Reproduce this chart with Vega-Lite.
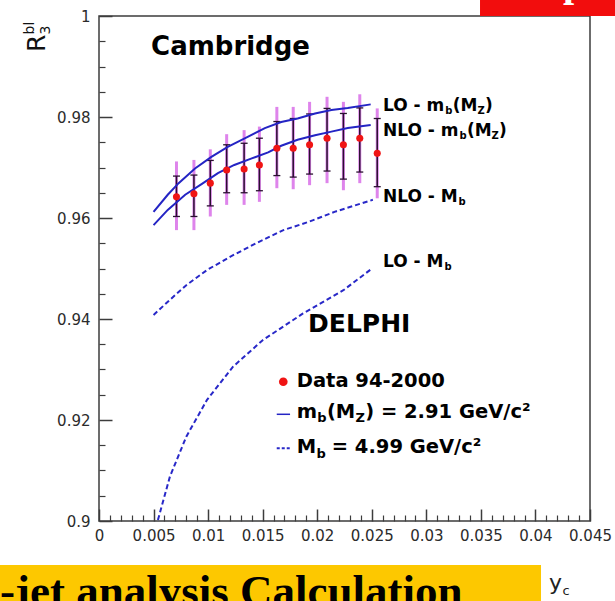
{
  "$schema": "https://vega.github.io/schema/vega-lite/v6.json",
  "width": 491,
  "height": 505,
  "autosize": {"type": "none"},
  "padding": {"left": 99, "top": 16, "right": 25, "bottom": 80},
  "background": "#ffffff",
  "config": {"view": {"stroke": "#3c3c3c", "strokeWidth": 1.5}, "axis": {"grid": false}},
  "datasets": {
    "points": [
      {"yc": 0.0071, "r": 0.9642, "statLo": 0.9603, "statHi": 0.9683, "totLo": 0.9576, "totHi": 0.9712},
      {"yc": 0.0087, "r": 0.9648, "statLo": 0.9603, "statHi": 0.9685, "totLo": 0.9576, "totHi": 0.9715},
      {"yc": 0.0102, "r": 0.9669, "statLo": 0.9624, "statHi": 0.9714, "totLo": 0.9603, "totHi": 0.9736},
      {"yc": 0.0117, "r": 0.9695, "statLo": 0.9650, "statHi": 0.9745, "totLo": 0.9626, "totHi": 0.9766},
      {"yc": 0.0133, "r": 0.9697, "statLo": 0.9650, "statHi": 0.9748, "totLo": 0.9626, "totHi": 0.9774},
      {"yc": 0.0147, "r": 0.9705, "statLo": 0.9654, "statHi": 0.9758, "totLo": 0.9632, "totHi": 0.9781},
      {"yc": 0.0163, "r": 0.9738, "statLo": 0.9684, "statHi": 0.9791, "totLo": 0.9659, "totHi": 0.9820},
      {"yc": 0.0178, "r": 0.9738, "statLo": 0.9681, "statHi": 0.9797, "totLo": 0.9657, "totHi": 0.9820},
      {"yc": 0.0193, "r": 0.9745, "statLo": 0.9687, "statHi": 0.9806, "totLo": 0.9665, "totHi": 0.9830},
      {"yc": 0.0209, "r": 0.9758, "statLo": 0.9693, "statHi": 0.9817, "totLo": 0.9669, "totHi": 0.9840},
      {"yc": 0.0224, "r": 0.9745, "statLo": 0.9677, "statHi": 0.9807, "totLo": 0.9655, "totHi": 0.9830},
      {"yc": 0.0239, "r": 0.9758, "statLo": 0.9691, "statHi": 0.9818, "totLo": 0.9669, "totHi": 0.9845},
      {"yc": 0.0255, "r": 0.9728, "statLo": 0.9662, "statHi": 0.9797, "totLo": 0.9639, "totHi": 0.9817}
    ],
    "theory": [
      {"curve": "loRun", "yc": 0.0050, "r": 0.9612},
      {"curve": "loRun", "yc": 0.0063, "r": 0.9646},
      {"curve": "loRun", "yc": 0.0073, "r": 0.9669},
      {"curve": "loRun", "yc": 0.0088, "r": 0.9698},
      {"curve": "loRun", "yc": 0.0103, "r": 0.9721},
      {"curve": "loRun", "yc": 0.0118, "r": 0.9741},
      {"curve": "loRun", "yc": 0.0134, "r": 0.9758},
      {"curve": "loRun", "yc": 0.0152, "r": 0.9778},
      {"curve": "loRun", "yc": 0.0167, "r": 0.9790},
      {"curve": "loRun", "yc": 0.0182, "r": 0.9797},
      {"curve": "loRun", "yc": 0.0198, "r": 0.9807},
      {"curve": "loRun", "yc": 0.0213, "r": 0.9814},
      {"curve": "loRun", "yc": 0.0228, "r": 0.9818},
      {"curve": "loRun", "yc": 0.0249, "r": 0.9825},
      {"curve": "nloRun", "yc": 0.0050, "r": 0.9586},
      {"curve": "nloRun", "yc": 0.0063, "r": 0.9616},
      {"curve": "nloRun", "yc": 0.0079, "r": 0.9646},
      {"curve": "nloRun", "yc": 0.0094, "r": 0.9667},
      {"curve": "nloRun", "yc": 0.0109, "r": 0.9689},
      {"curve": "nloRun", "yc": 0.0124, "r": 0.9705},
      {"curve": "nloRun", "yc": 0.0140, "r": 0.9718},
      {"curve": "nloRun", "yc": 0.0155, "r": 0.9730},
      {"curve": "nloRun", "yc": 0.0167, "r": 0.9743},
      {"curve": "nloRun", "yc": 0.0182, "r": 0.9755},
      {"curve": "nloRun", "yc": 0.0198, "r": 0.9764},
      {"curve": "nloRun", "yc": 0.0213, "r": 0.9771},
      {"curve": "nloRun", "yc": 0.0228, "r": 0.9778},
      {"curve": "nloRun", "yc": 0.0249, "r": 0.9784},
      {"curve": "nloPole", "yc": 0.0050, "r": 0.9408},
      {"curve": "nloPole", "yc": 0.0065, "r": 0.9438},
      {"curve": "nloPole", "yc": 0.0080, "r": 0.9467},
      {"curve": "nloPole", "yc": 0.0099, "r": 0.9497},
      {"curve": "nloPole", "yc": 0.0120, "r": 0.9523},
      {"curve": "nloPole", "yc": 0.0144, "r": 0.9550},
      {"curve": "nloPole", "yc": 0.0169, "r": 0.9576},
      {"curve": "nloPole", "yc": 0.0193, "r": 0.9593},
      {"curve": "nloPole", "yc": 0.0217, "r": 0.9613},
      {"curve": "nloPole", "yc": 0.0251, "r": 0.9636},
      {"curve": "loPole", "yc": 0.0054, "r": 0.9002},
      {"curve": "loPole", "yc": 0.0065, "r": 0.9088},
      {"curve": "loPole", "yc": 0.0080, "r": 0.9167},
      {"curve": "loPole", "yc": 0.0099, "r": 0.9240},
      {"curve": "loPole", "yc": 0.0123, "r": 0.9306},
      {"curve": "loPole", "yc": 0.0150, "r": 0.9358},
      {"curve": "loPole", "yc": 0.0187, "r": 0.9411},
      {"curve": "loPole", "yc": 0.0224, "r": 0.9457},
      {"curve": "loPole", "yc": 0.0249, "r": 0.9498}
    ],
    "notes": [
      {"key": "banner", "yc": -0.0095, "yc2": 0.04051, "r": 0.8800, "r2": 0.89129},
      {"key": "redbox", "yc": 0.03492, "yc2": 0.0480, "r": 1.0, "r2": 1.0045},
      {"key": "redGlyph", "yc": 0.04253, "r": 1.00396},
      {"key": "bannerText", "yc": -0.00907, "r": 0.88317},
      {"key": "ycLabel", "yc": 0.04124, "r": 0.88634},
      {"key": "title", "yc": -0.00495, "r": 0.99287},
      {"key": "cambridge", "yc": 0.00477, "r": 0.99228},
      {"key": "delphi", "yc": 0.01916, "r": 0.93901},
      {"key": "loRun", "yc": 0.02603, "r": 0.98218},
      {"key": "nloRun", "yc": 0.02603, "r": 0.97723},
      {"key": "nloPole", "yc": 0.02603, "r": 0.96406},
      {"key": "loPole", "yc": 0.02603, "r": 0.95129},
      {"key": "legData", "yc": 0.01812, "r": 0.92772},
      {"key": "legDot", "yc": 0.01689, "r": 0.92758},
      {"key": "legRun", "yc": 0.01812, "r": 0.92158},
      {"key": "legPole", "yc": 0.01812, "r": 0.91465},
      {"key": "sampleRun", "yc": 0.01629, "yc2": 0.01751, "r": 0.92113},
      {"key": "samplePole", "yc": 0.01629, "yc2": 0.01766, "r": 0.91440}
    ]
  },
  "encoding": {
    "x": {"field": "yc", "type": "quantitative", "scale": {"domain": [0, 0.045], "nice": false, "zero": false}, "axis": null},
    "y": {"field": "r", "type": "quantitative", "scale": {"domain": [0.9, 1], "nice": false, "zero": false}, "axis": null}
  },
  "layer": [
    {
      "data": {"name": "notes"},
      "transform": [{"filter": "datum.key === 'banner'"}],
      "mark": {"type": "rect", "fill": "#fdc800"},
      "encoding": {"x2": {"field": "yc2"}, "y2": {"field": "r2"}}
    },
    {
      "data": {"name": "notes"},
      "transform": [{"filter": "datum.key === 'redbox'"}],
      "mark": {"type": "rect", "fill": "#f20d0d"},
      "encoding": {"x2": {"field": "yc2"}, "y2": {"field": "r2"}}
    },
    {
      "data": {"name": "notes"},
      "transform": [{"filter": "datum.key === 'redGlyph'"}],
      "mark": {"type": "text", "text": "p", "font": "Liberation Serif", "fontWeight": "bold", "fontSize": 40, "align": "left", "baseline": "alphabetic", "fill": "#ffffff"}
    },
    {
      "data": {"name": "notes"},
      "transform": [{"filter": "datum.key === 'bannerText'"}],
      "mark": {"type": "text", "text": "-jet analysis Calculation", "font": "Liberation Serif", "fontWeight": "bold", "fontSize": 45, "align": "left", "baseline": "alphabetic", "fill": "#000000"}
    },
    {
      "data": {"name": "notes"},
      "transform": [{"filter": "datum.key === 'ycLabel'"}],
      "mark": {"type": "text", "text": "y", "font": "DejaVu Sans", "fontSize": 22, "align": "left", "baseline": "alphabetic", "fill": "#222222"}
    },
    {
      "data": {"name": "notes"},
      "transform": [{"filter": "datum.key === 'ycLabel'"}],
      "mark": {"type": "text", "text": "c", "font": "DejaVu Sans", "fontSize": 13, "align": "left", "baseline": "alphabetic", "dx": 13.5, "dy": 5, "fill": "#222222"}
    },
    {
      "data": {"name": "theory"},
      "transform": [{"filter": "datum.curve === 'nloPole'"}],
      "mark": {"type": "line", "stroke": "#2828c8", "strokeWidth": 2, "strokeDash": [5, 3]}
    },
    {
      "data": {"name": "theory"},
      "transform": [{"filter": "datum.curve === 'loPole'"}],
      "mark": {"type": "line", "stroke": "#2828c8", "strokeWidth": 2, "strokeDash": [5, 3]}
    },
    {
      "data": {"name": "points"},
      "mark": {"type": "rule", "stroke": "#d86ee8", "strokeWidth": 3, "opacity": 0.85},
      "encoding": {
        "x": {
          "field": "yc", "type": "quantitative",
          "scale": {"domain": [0, 0.045], "nice": false, "zero": false},
          "axis": {
            "orient": "bottom", "title": null, "domain": false, "grid": false,
            "values": [0, 0.005, 0.01, 0.015, 0.02, 0.025, 0.03, 0.035, 0.04, 0.045],
            "format": "~g", "tickSize": -12, "tickWidth": 1.5, "tickColor": "#3c3c3c",
            "labelFont": "DejaVu Sans", "labelFontSize": 15, "labelColor": "#2b2b2b",
            "labelPadding": 19, "labelFlush": false, "labelOverlap": false, "labelBound": false
          }
        },
        "y": {
          "field": "totLo", "type": "quantitative",
          "scale": {"domain": [0.9, 1], "nice": false, "zero": false},
          "axis": {
            "orient": "left", "title": null, "domain": false, "grid": false,
            "values": [0.9, 0.92, 0.94, 0.96, 0.98, 1],
            "format": "~g", "tickSize": -13, "tickWidth": 1.5, "tickColor": "#3c3c3c",
            "labelFont": "DejaVu Sans", "labelFontSize": 15, "labelColor": "#2b2b2b",
            "labelPadding": 22, "labelFlush": false, "labelOverlap": false, "labelBound": false
          }
        },
        "y2": {"field": "totHi"}
      }
    },
    {
      "data": {"name": "points"},
      "mark": {"type": "rule", "stroke": "#2a1030", "strokeWidth": 1.5},
      "encoding": {
        "x": {
          "field": "yc", "type": "quantitative",
          "scale": {"domain": [0, 0.045], "nice": false, "zero": false},
          "axis": {
            "orient": "bottom", "title": null, "domain": false, "grid": false, "labels": false,
            "values": [0.001, 0.002, 0.003, 0.004, 0.006, 0.007, 0.008, 0.009, 0.011, 0.012, 0.013, 0.014, 0.016, 0.017, 0.018, 0.019, 0.021, 0.022, 0.023, 0.024, 0.026, 0.027, 0.028, 0.029, 0.031, 0.032, 0.033, 0.034, 0.036, 0.037, 0.038, 0.039, 0.041, 0.042, 0.043, 0.044],
            "tickSize": -6, "tickWidth": 1.2, "tickColor": "#3c3c3c"
          }
        },
        "y": {
          "field": "statLo", "type": "quantitative",
          "scale": {"domain": [0.9, 1], "nice": false, "zero": false},
          "axis": {
            "orient": "left", "title": null, "domain": false, "grid": false, "labels": false,
            "values": [0.905, 0.91, 0.915, 0.925, 0.93, 0.935, 0.945, 0.95, 0.955, 0.965, 0.97, 0.975, 0.985, 0.99, 0.995],
            "tickSize": -6, "tickWidth": 1.2, "tickColor": "#3c3c3c"
          }
        },
        "y2": {"field": "statHi"}
      }
    },
    {
      "data": {"name": "points"},
      "transform": [{"fold": ["statLo", "statHi"], "as": ["end", "capR"]}],
      "mark": {"type": "tick", "orient": "horizontal", "size": 7, "thickness": 1.3, "color": "#2a1030", "opacity": 1},
      "encoding": {
        "y": {"field": "capR", "type": "quantitative", "scale": {"domain": [0.9, 1], "nice": false, "zero": false}, "axis": null}
      }
    },
    {
      "data": {"name": "theory"},
      "transform": [{"filter": "datum.curve === 'loRun'"}],
      "mark": {"type": "line", "stroke": "#2424c4", "strokeWidth": 2}
    },
    {
      "data": {"name": "theory"},
      "transform": [{"filter": "datum.curve === 'nloRun'"}],
      "mark": {"type": "line", "stroke": "#2424c4", "strokeWidth": 2}
    },
    {
      "data": {"name": "points"},
      "mark": {"type": "circle", "size": 50, "fill": "#f01414", "opacity": 1}
    },
    {
      "data": {"name": "notes"},
      "transform": [{"filter": "datum.key === 'title'"}],
      "mark": {"type": "text", "text": "R", "angle": 270, "font": "DejaVu Sans", "fontSize": 25, "align": "left", "baseline": "alphabetic", "fill": "#111111"}
    },
    {
      "data": {"name": "notes"},
      "transform": [{"filter": "datum.key === 'title'"}],
      "mark": {"type": "text", "text": "bl", "angle": 270, "font": "DejaVu Sans", "fontSize": 14, "align": "left", "baseline": "alphabetic", "dx": 17.5, "dy": -11, "fill": "#111111"}
    },
    {
      "data": {"name": "notes"},
      "transform": [{"filter": "datum.key === 'title'"}],
      "mark": {"type": "text", "text": "3", "angle": 270, "font": "DejaVu Sans", "fontSize": 14, "align": "left", "baseline": "alphabetic", "dx": 17.5, "dy": 5, "fill": "#111111"}
    },
    {
      "data": {"name": "notes"},
      "transform": [{"filter": "datum.key === 'cambridge'"}],
      "mark": {"type": "text", "text": "Cambridge", "font": "DejaVu Sans", "fontWeight": "bold", "fontSize": 26, "align": "left", "baseline": "alphabetic", "fill": "#000000"}
    },
    {
      "data": {"name": "notes"},
      "transform": [{"filter": "datum.key === 'delphi'"}],
      "mark": {"type": "text", "text": "DELPHI", "font": "DejaVu Sans", "fontWeight": "bold", "fontSize": 25, "align": "left", "baseline": "middle", "fill": "#000000"}
    },
    {
      "data": {"name": "notes"},
      "transform": [{"filter": "datum.key === 'loRun'"}],
      "mark": {"type": "text", "text": "LO - m", "font": "DejaVu Sans", "fontWeight": "bold", "fontSize": 17, "align": "left", "baseline": "middle", "fill": "#000000"}
    },
    {
      "data": {"name": "notes"},
      "transform": [{"filter": "datum.key === 'loRun'"}],
      "mark": {"type": "text", "text": "b", "font": "DejaVu Sans", "fontWeight": "bold", "fontSize": 10, "align": "left", "baseline": "middle", "dx": 62.2, "dy": 5, "fill": "#000000"}
    },
    {
      "data": {"name": "notes"},
      "transform": [{"filter": "datum.key === 'loRun'"}],
      "mark": {"type": "text", "text": "(M", "font": "DejaVu Sans", "fontWeight": "bold", "fontSize": 17, "align": "left", "baseline": "middle", "dx": 69.7, "fill": "#000000"}
    },
    {
      "data": {"name": "notes"},
      "transform": [{"filter": "datum.key === 'loRun'"}],
      "mark": {"type": "text", "text": "Z", "font": "DejaVu Sans", "fontWeight": "bold", "fontSize": 10, "align": "left", "baseline": "middle", "dx": 94.4, "dy": 5, "fill": "#000000"}
    },
    {
      "data": {"name": "notes"},
      "transform": [{"filter": "datum.key === 'loRun'"}],
      "mark": {"type": "text", "text": ")", "font": "DejaVu Sans", "fontWeight": "bold", "fontSize": 17, "align": "left", "baseline": "middle", "dx": 101.9, "fill": "#000000"}
    },
    {
      "data": {"name": "notes"},
      "transform": [{"filter": "datum.key === 'nloRun'"}],
      "mark": {"type": "text", "text": "NLO - m", "font": "DejaVu Sans", "fontWeight": "bold", "fontSize": 17, "align": "left", "baseline": "middle", "fill": "#000000"}
    },
    {
      "data": {"name": "notes"},
      "transform": [{"filter": "datum.key === 'nloRun'"}],
      "mark": {"type": "text", "text": "b", "font": "DejaVu Sans", "fontWeight": "bold", "fontSize": 10, "align": "left", "baseline": "middle", "dx": 76.4, "dy": 5, "fill": "#000000"}
    },
    {
      "data": {"name": "notes"},
      "transform": [{"filter": "datum.key === 'nloRun'"}],
      "mark": {"type": "text", "text": "(M", "font": "DejaVu Sans", "fontWeight": "bold", "fontSize": 17, "align": "left", "baseline": "middle", "dx": 83.9, "fill": "#000000"}
    },
    {
      "data": {"name": "notes"},
      "transform": [{"filter": "datum.key === 'nloRun'"}],
      "mark": {"type": "text", "text": "Z", "font": "DejaVu Sans", "fontWeight": "bold", "fontSize": 10, "align": "left", "baseline": "middle", "dx": 108.6, "dy": 5, "fill": "#000000"}
    },
    {
      "data": {"name": "notes"},
      "transform": [{"filter": "datum.key === 'nloRun'"}],
      "mark": {"type": "text", "text": ")", "font": "DejaVu Sans", "fontWeight": "bold", "fontSize": 17, "align": "left", "baseline": "middle", "dx": 116.1, "fill": "#000000"}
    },
    {
      "data": {"name": "notes"},
      "transform": [{"filter": "datum.key === 'nloPole'"}],
      "mark": {"type": "text", "text": "NLO - M", "font": "DejaVu Sans", "fontWeight": "bold", "fontSize": 17, "align": "left", "baseline": "middle", "fill": "#000000"}
    },
    {
      "data": {"name": "notes"},
      "transform": [{"filter": "datum.key === 'nloPole'"}],
      "mark": {"type": "text", "text": "b", "font": "DejaVu Sans", "fontWeight": "bold", "fontSize": 10, "align": "left", "baseline": "middle", "dx": 75.6, "dy": 5, "fill": "#000000"}
    },
    {
      "data": {"name": "notes"},
      "transform": [{"filter": "datum.key === 'loPole'"}],
      "mark": {"type": "text", "text": "LO - M", "font": "DejaVu Sans", "fontWeight": "bold", "fontSize": 17, "align": "left", "baseline": "middle", "fill": "#000000"}
    },
    {
      "data": {"name": "notes"},
      "transform": [{"filter": "datum.key === 'loPole'"}],
      "mark": {"type": "text", "text": "b", "font": "DejaVu Sans", "fontWeight": "bold", "fontSize": 10, "align": "left", "baseline": "middle", "dx": 61.4, "dy": 5, "fill": "#000000"}
    },
    {
      "data": {"name": "notes"},
      "transform": [{"filter": "datum.key === 'legDot'"}],
      "mark": {"type": "circle", "size": 75, "fill": "#f01414", "opacity": 1}
    },
    {
      "data": {"name": "notes"},
      "transform": [{"filter": "datum.key === 'sampleRun'"}],
      "mark": {"type": "rule", "stroke": "#2424c4", "strokeWidth": 1.5},
      "encoding": {"x2": {"field": "yc2"}}
    },
    {
      "data": {"name": "notes"},
      "transform": [{"filter": "datum.key === 'samplePole'"}],
      "mark": {"type": "rule", "stroke": "#2828c8", "strokeWidth": 2, "strokeDash": [3, 2]},
      "encoding": {"x2": {"field": "yc2"}}
    },
    {
      "data": {"name": "notes"},
      "transform": [{"filter": "datum.key === 'legData'"}],
      "mark": {"type": "text", "text": "Data 94-2000", "font": "DejaVu Sans", "fontWeight": "bold", "fontSize": 19.5, "align": "left", "baseline": "middle", "fill": "#000000"}
    },
    {
      "data": {"name": "notes"},
      "transform": [{"filter": "datum.key === 'legRun'"}],
      "mark": {"type": "text", "text": "m", "font": "DejaVu Sans", "fontWeight": "bold", "fontSize": 19.5, "align": "left", "baseline": "middle", "fill": "#000000"}
    },
    {
      "data": {"name": "notes"},
      "transform": [{"filter": "datum.key === 'legRun'"}],
      "mark": {"type": "text", "text": "b", "font": "DejaVu Sans", "fontWeight": "bold", "fontSize": 13, "align": "left", "baseline": "middle", "dx": 20.6, "dy": 6, "fill": "#000000"}
    },
    {
      "data": {"name": "notes"},
      "transform": [{"filter": "datum.key === 'legRun'"}],
      "mark": {"type": "text", "text": "(M", "font": "DejaVu Sans", "fontWeight": "bold", "fontSize": 19.5, "align": "left", "baseline": "middle", "dx": 30.2, "fill": "#000000"}
    },
    {
      "data": {"name": "notes"},
      "transform": [{"filter": "datum.key === 'legRun'"}],
      "mark": {"type": "text", "text": "Z", "font": "DejaVu Sans", "fontWeight": "bold", "fontSize": 13, "align": "left", "baseline": "middle", "dx": 58.8, "dy": 6, "fill": "#000000"}
    },
    {
      "data": {"name": "notes"},
      "transform": [{"filter": "datum.key === 'legRun'"}],
      "mark": {"type": "text", "text": ") = 2.91 GeV/c²", "font": "DejaVu Sans", "fontWeight": "bold", "fontSize": 19.5, "align": "left", "baseline": "middle", "dx": 68.5, "fill": "#000000"}
    },
    {
      "data": {"name": "notes"},
      "transform": [{"filter": "datum.key === 'legPole'"}],
      "mark": {"type": "text", "text": "M", "font": "DejaVu Sans", "fontWeight": "bold", "fontSize": 19.5, "align": "left", "baseline": "middle", "fill": "#000000"}
    },
    {
      "data": {"name": "notes"},
      "transform": [{"filter": "datum.key === 'legPole'"}],
      "mark": {"type": "text", "text": "b", "font": "DejaVu Sans", "fontWeight": "bold", "fontSize": 13, "align": "left", "baseline": "middle", "dx": 19.7, "dy": 7, "fill": "#000000"}
    },
    {
      "data": {"name": "notes"},
      "transform": [{"filter": "datum.key === 'legPole'"}],
      "mark": {"type": "text", "text": "= 4.99 GeV/c²", "font": "DejaVu Sans", "fontWeight": "bold", "fontSize": 19.5, "align": "left", "baseline": "middle", "dx": 35, "fill": "#000000"}
    }
  ],
  "resolve": {"axis": {"x": "independent", "y": "independent"}}
}
